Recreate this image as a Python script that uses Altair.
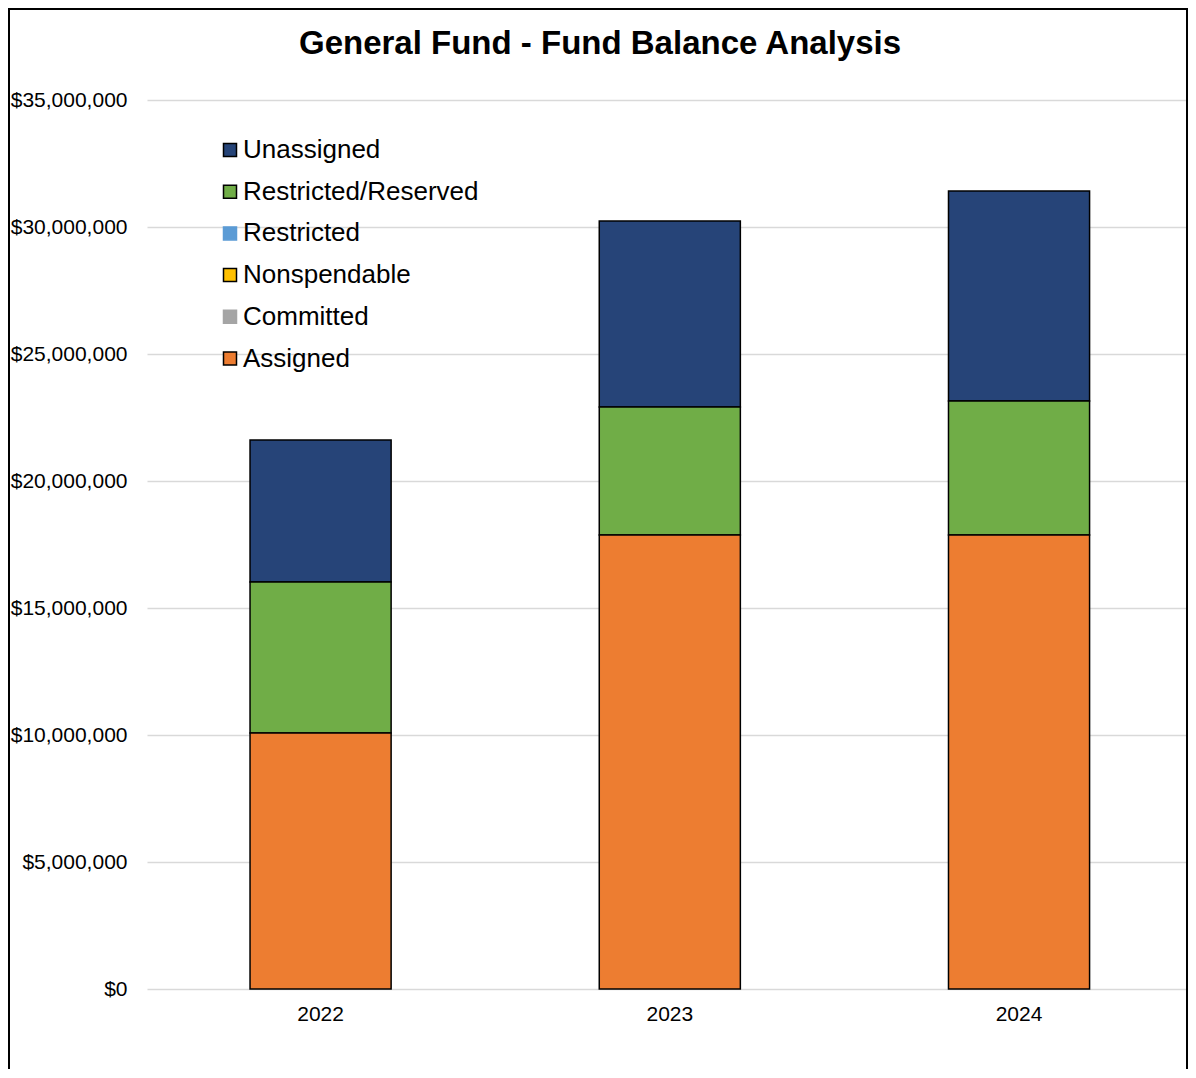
import altair as alt
import pandas as pd

title_text = "General Fund - Fund Balance Analysis"
years = ["2022", "2023", "2024"]
categories = ["Unassigned", "Restricted/Reserved", "Restricted", "Nonspendable", "Committed", "Assigned"]

unassigned = [5_590_000, 7_330_000, 8_270_000]
restricted_reserved = [5_940_000, 5_040_000, 5_280_000]
restricted = [0, 0, 0]
nonspendable = [0, 0, 0]
committed = [0, 0, 0]
assigned = [10_080_000, 17_870_000, 17_870_000]

colors = ["#264478", "#70AD47", "#5B9BD5", "#FFC000", "#A5A5A5", "#ED7D31"]
outline = ["#000000", "#000000", "#5B9BD5", "#000000", "#A5A5A5", "#000000"]
stack_rank = [5, 4, 3, 2, 1, 0]
y_ticks = [0, 5_000_000, 10_000_000, 15_000_000, 20_000_000, 25_000_000, 30_000_000, 35_000_000]

series = [unassigned, restricted_reserved, restricted, nonspendable, committed, assigned]
rows = []
for cat, vals, rk in zip(categories, series, stack_rank):
    for yr, v in zip(years, vals):
        rows.append({"year": yr, "category": cat, "value": v, "rank": rk})
df = pd.DataFrame(rows)

FONT = "Liberation Sans"

legend = alt.Legend(
    title=None, orient="none", legendX=70, legendY=37,
    symbolType="square", symbolSize=169, symbolStrokeWidth=1.5,
    labelFontSize=26, labelFont=FONT, labelColor="black", labelLimit=0,
    rowPadding=15.7, labelOffset=0, padding=0,
)

bars = alt.Chart(df).transform_filter("datum.value > 0").mark_bar(strokeWidth=1.5).encode(
    x=alt.X("year:N", sort=years,
            scale=alt.Scale(paddingInner=0.596, paddingOuter=0.287, align=0.514),
            axis=alt.Axis(title=None, labelAngle=0, labelFontSize=21, labelFont=FONT,
                          labelColor="black", labelPadding=14, ticks=False, domain=False)),
    y=alt.Y("value:Q", stack="zero",
            scale=alt.Scale(domain=[0, 35_000_000], nice=False),
            axis=alt.Axis(title=None, values=y_ticks, format="$,.0f", labelFontSize=21,
                          labelFont=FONT, labelColor="black", labelPadding=20,
                          ticks=False, domain=False, gridColor="#D9D9D9", gridWidth=1.5)),
    fill=alt.Fill("category:N", scale=alt.Scale(domain=categories, range=colors), legend=legend),
    stroke=alt.Stroke("category:N", scale=alt.Scale(domain=categories, range=outline), legend=legend),
    order=alt.Order("rank:Q", sort="ascending"),
)

title_layer = alt.Chart(alt.Data(values=[{}])).mark_text(
    text=title_text, fontSize=33, fontWeight="bold", font=FONT, color="black",
    align="center", baseline="middle"
).encode(x=alt.value(453), y=alt.value(-56))

frame = alt.Chart(alt.Data(values=[{}])).mark_rect(
    fillOpacity=0, stroke="black", strokeWidth=2, clip=False
).encode(x=alt.value(-138), x2=alt.value(1040), y=alt.value(-91), y2=alt.value(1000))

chart = alt.layer(bars, title_layer, frame).properties(
    width=1040, height=889,
    padding={"left": 139, "top": 92, "right": 1, "bottom": 80},
    autosize=alt.AutoSizeParams(type="none"),
).configure_view(stroke=None)

chart.save("out.html", embed_options={"renderer": "svg", "actions": False})
